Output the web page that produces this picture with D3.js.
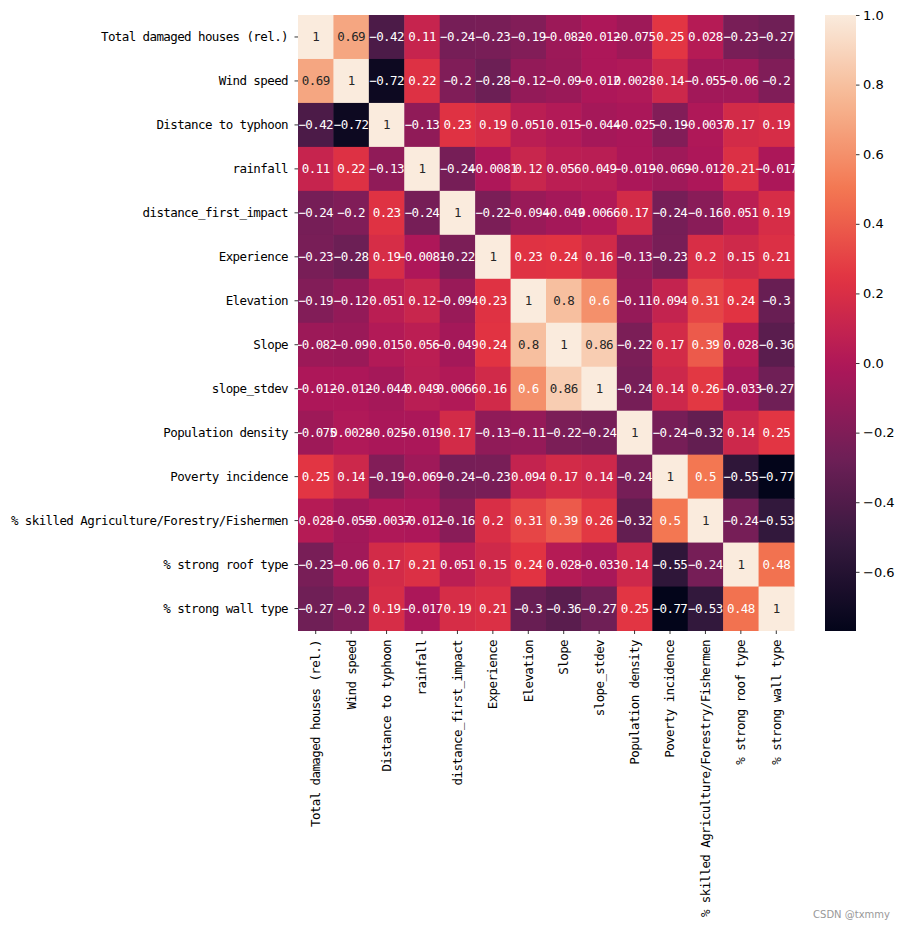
<!DOCTYPE html>
<html><head><meta charset="utf-8">
<script src="https://cdn.jsdelivr.net/npm/d3@7"></script>
<style>body{margin:0;background:#fff}svg{display:block}</style>
</head><body>
<script>
const labels = ["Total damaged houses (rel.)","Wind speed","Distance to typhoon","rainfall","distance_first_impact","Experience","Elevation","Slope","slope_stdev","Population density","Poverty incidence","% skilled Agriculture/Forestry/Fishermen","% strong roof type","% strong wall type"];
const r0  = [1, 0.69, -0.42, 0.11, -0.24, -0.23, -0.19, -0.082, -0.012, -0.075, 0.25, 0.028, -0.23, -0.27];
const r1  = [0.69, 1, -0.72, 0.22, -0.2, -0.28, -0.12, -0.09, -0.012, 0.0028, 0.14, -0.055, -0.06, -0.2];
const r2  = [-0.42, -0.72, 1, -0.13, 0.23, 0.19, 0.051, 0.015, -0.044, -0.025, -0.19, -0.0037, 0.17, 0.19];
const r3  = [0.11, 0.22, -0.13, 1, -0.24, -0.0081, 0.12, 0.056, 0.049, -0.019, -0.069, -0.012, 0.21, -0.017];
const r4  = [-0.24, -0.2, 0.23, -0.24, 1, -0.22, -0.094, -0.049, 0.0066, 0.17, -0.24, -0.16, 0.051, 0.19];
const r5  = [-0.23, -0.28, 0.19, -0.0081, -0.22, 1, 0.23, 0.24, 0.16, -0.13, -0.23, 0.2, 0.15, 0.21];
const r6  = [-0.19, -0.12, 0.051, 0.12, -0.094, 0.23, 1, 0.8, 0.6, -0.11, 0.094, 0.31, 0.24, -0.3];
const r7  = [-0.082, -0.09, 0.015, 0.056, -0.049, 0.24, 0.8, 1, 0.86, -0.22, 0.17, 0.39, 0.028, -0.36];
const r8  = [-0.012, -0.012, -0.044, 0.049, 0.0066, 0.16, 0.6, 0.86, 1, -0.24, 0.14, 0.26, -0.033, -0.27];
const r9  = [-0.075, 0.0028, -0.025, -0.019, 0.17, -0.13, -0.11, -0.22, -0.24, 1, -0.24, -0.32, 0.14, 0.25];
const r10 = [0.25, 0.14, -0.19, -0.069, -0.24, -0.23, 0.094, 0.17, 0.14, -0.24, 1, 0.5, -0.55, -0.77];
const r11 = [0.028, -0.055, -0.0037, -0.012, -0.16, 0.2, 0.31, 0.39, 0.26, -0.32, 0.5, 1, -0.24, -0.53];
const r12 = [-0.23, -0.06, 0.17, 0.21, 0.051, 0.15, 0.24, 0.028, -0.033, 0.14, -0.55, -0.24, 1, 0.48];
const r13 = [-0.27, -0.2, 0.19, -0.017, 0.19, 0.21, -0.3, -0.36, -0.27, 0.25, -0.77, -0.53, 0.48, 1];
const matrix = [r0,r1,r2,r3,r4,r5,r6,r7,r8,r9,r10,r11,r12,r13];
const cbTicks = [1.0, 0.8, 0.6, 0.4, 0.2, 0.0, -0.2, -0.4, -0.6];
const vmin = -0.77, vmax = 1;
const rocketStops = ["#03051a","#35193e","#701f57","#ad1759","#e13342","#f37651","#f6b48f","#faebdd"];

const W = 903, H = 929;
const FONT = "'DejaVu Sans Mono', 'Liberation Mono', monospace";
const FS = 12.5, LS = -0.6;
const svg = d3.select("body").append("svg").attr("width", W).attr("height", H);

const pLeft = 298, pRight = 794, pTop = 15, pBottom = 630.5;
const x = d3.scaleBand().domain(labels).range([pLeft, pRight]).padding(0);
const y = d3.scaleBand().domain(labels).range([pTop, pBottom]).padding(0);
const rocket = d3.scaleLinear().domain(rocketStops.map((_, i) => i / (rocketStops.length - 1))).range(rocketStops).interpolate(d3.interpolateRgb);
const norm = d3.scaleLinear().domain([vmin, vmax]).range([0, 1]).clamp(true);
const color = v => rocket(norm(v));

const cells = [];
matrix.forEach((row, i) => row.forEach((v, j) => cells.push({r: labels[i], c: labels[j], v})));

svg.append("g").selectAll("rect").data(cells).join("rect")
  .attr("x", d => x(d.c)).attr("y", d => y(d.r))
  .attr("width", x.bandwidth() + 0.5).attr("height", y.bandwidth() + 0.5)
  .attr("fill", d => color(d.v));

function lum(c) {
  const rgb = d3.rgb(c);
  const f = u => { u /= 255; return u <= 0.03928 ? u / 12.92 : Math.pow((u + 0.055) / 1.055, 2.4); };
  return 0.2126 * f(rgb.r) + 0.7152 * f(rgb.g) + 0.0722 * f(rgb.b);
}
const fmt = v => { let s = String(+v.toPrecision(2)); return s.replace("-", "\u2212"); };

svg.append("g").selectAll("text").data(cells).join("text")
  .attr("x", d => x(d.c) + x.bandwidth() / 2)
  .attr("y", d => y(d.r) + y.bandwidth() / 2)
  .attr("text-anchor", "middle").attr("dominant-baseline", "central")
  .style("font-family", FONT).style("font-size", FS + "px").style("letter-spacing", LS + "px")
  .attr("fill", d => lum(color(d.v)) > 0.408 ? "#262626" : "#ffffff")
  .text(d => fmt(d.v));

// y axis
const yAxis = svg.append("g").attr("transform", `translate(${pLeft},0)`)
  .call(d3.axisLeft(y).tickSize(3.5).tickPadding(6.5));
yAxis.select(".domain").remove();
yAxis.selectAll("line").attr("stroke", "#000").attr("stroke-width", 0.8);
yAxis.selectAll("text").style("font-family", FONT).style("font-size", FS + "px").style("letter-spacing", LS + "px").attr("fill", "#000");

// x axis
const xAxis = svg.append("g").attr("transform", `translate(0,${pBottom})`)
  .call(d3.axisBottom(x).tickSize(3.5).tickPadding(4));
xAxis.select(".domain").remove();
xAxis.selectAll("line").attr("stroke", "#000").attr("stroke-width", 0.8);
xAxis.selectAll("text")
  .style("font-family", FONT).style("font-size", FS + "px").style("letter-spacing", LS + "px").attr("fill", "#000")
  .attr("transform", "rotate(-90)")
  .attr("x", -9.5).attr("y", 0).attr("dy", "0.35em")
  .attr("text-anchor", "end");

// colorbar
const cbX = 825, cbW = 31;
const cbY = d3.scaleLinear().domain([vmin, vmax]).range([631, 15]);
const defs = svg.append("defs");
const grad = defs.append("linearGradient").attr("id", "cbg").attr("x1", 0).attr("y1", 1).attr("x2", 0).attr("y2", 0);
d3.range(0, 1.0001, 0.02).forEach(t => grad.append("stop").attr("offset", t).attr("stop-color", rocket(t)));
svg.append("rect").attr("x", cbX).attr("y", 15).attr("width", cbW).attr("height", 616).attr("fill", "url(#cbg)");
const cbAxis = svg.append("g").attr("transform", `translate(${cbX + cbW},0)`)
  .call(d3.axisRight(cbY).tickValues(cbTicks).tickSize(3.5).tickPadding(3.5)
    .tickFormat(v => d3.format(".1f")(v).replace("-", "\u2212")));
cbAxis.select(".domain").remove();
cbAxis.selectAll("line").attr("stroke", "#000").attr("stroke-width", 0.8);
cbAxis.selectAll("text").style("font-family", "'DejaVu Sans', sans-serif").style("font-size", "13px").attr("fill", "#000");

// watermark
svg.append("text").attr("x", 890).attr("y", 918).attr("text-anchor", "end")
  .style("font-family", "'DejaVu Sans', sans-serif").style("font-size", "10px").attr("fill", "#999")
  .text("CSDN @txmmy");
</script>
</body></html>
